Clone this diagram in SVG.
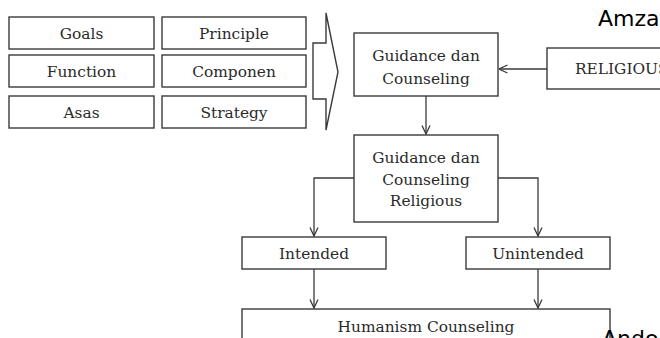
<svg xmlns="http://www.w3.org/2000/svg" width="660" height="338" viewBox="0 0 660 338">
<defs>
<style>
.box{fill:#fff;stroke:#3a3a3a;stroke-width:1.4}
.t{font-family:"DejaVu Serif","Liberation Serif",serif;font-size:15.4px;fill:#2a2a2a;text-anchor:middle}
.ln{fill:none;stroke:#3a3a3a;stroke-width:1.3}
.s{font-family:"DejaVu Sans","Liberation Sans",sans-serif;font-size:22px;fill:#000}
</style>
<marker id="ah" viewBox="0 0 10 10" refX="9.5" refY="5" markerWidth="10" markerHeight="10" markerUnits="userSpaceOnUse" orient="auto">
<path d="M1,1 L9.5,5 L1,9" fill="none" stroke="#3a3a3a" stroke-width="1.3"/>
</marker>
</defs>
<rect width="660" height="338" fill="#fff"/>
<text class="s" x="598" y="26">Amza</text>
<g id="goals"><rect class="box" x="9" y="17" width="145" height="32"/><text class="t" x="81.5" y="38.5">Goals</text></g>
<g id="principle"><rect class="box" x="162" y="17" width="144" height="32"/><text class="t" x="234" y="38.5">Principle</text></g>
<g id="function"><rect class="box" x="9" y="55" width="145" height="32"/><text class="t" x="81.5" y="76.5">Function</text></g>
<g id="componen"><rect class="box" x="162" y="55" width="144" height="32"/><text class="t" x="234" y="76.5">Componen</text></g>
<g id="asas"><rect class="box" x="9" y="96" width="145" height="32"/><text class="t" x="81.5" y="117.5">Asas</text></g>
<g id="strategy"><rect class="box" x="162" y="96" width="144" height="32"/><text class="t" x="234" y="117.5">Strategy</text></g>
<g id="bigarrow"><polygon class="box" points="313,43 326,43 326,13 338,72 326,130 326,99 313,99"/></g>
<g id="gc"><rect class="box" x="354" y="33" width="144" height="63"/><text class="t" x="426" y="61">Guidance dan</text><text class="t" x="426" y="84">Counseling</text></g>
<g id="religious"><rect class="box" x="547" y="48" width="130" height="41"/><text class="t" x="575" y="74" style="text-anchor:start">RELIGIOUS</text></g>
<g id="gcr"><rect class="box" x="354" y="135" width="144" height="87"/><text class="t" x="426" y="163">Guidance dan</text><text class="t" x="426" y="185">Counseling</text><text class="t" x="426" y="206">Religious</text></g>
<g id="intended"><rect class="box" x="242" y="237" width="144" height="32"/><text class="t" x="314" y="259">Intended</text></g>
<g id="unintended"><rect class="box" x="466" y="237" width="144" height="32"/><text class="t" x="538" y="259">Unintended</text></g>
<g id="humanism"><rect class="box" x="242" y="309" width="368" height="40"/><text class="t" x="426" y="332">Humanism Counseling</text></g>
<g id="connectors">
<path class="ln" d="M547,69 H499" marker-end="url(#ah)"/>
<path class="ln" d="M426,96 V134" marker-end="url(#ah)"/>
<path class="ln" d="M354,178 H314 V236" marker-end="url(#ah)"/>
<path class="ln" d="M498,178 H538 V236" marker-end="url(#ah)"/>
<path class="ln" d="M314,269 V308" marker-end="url(#ah)"/>
<path class="ln" d="M538,269 V308" marker-end="url(#ah)"/>
</g>
<text class="s" x="602" y="346">Ando</text>
</svg>
